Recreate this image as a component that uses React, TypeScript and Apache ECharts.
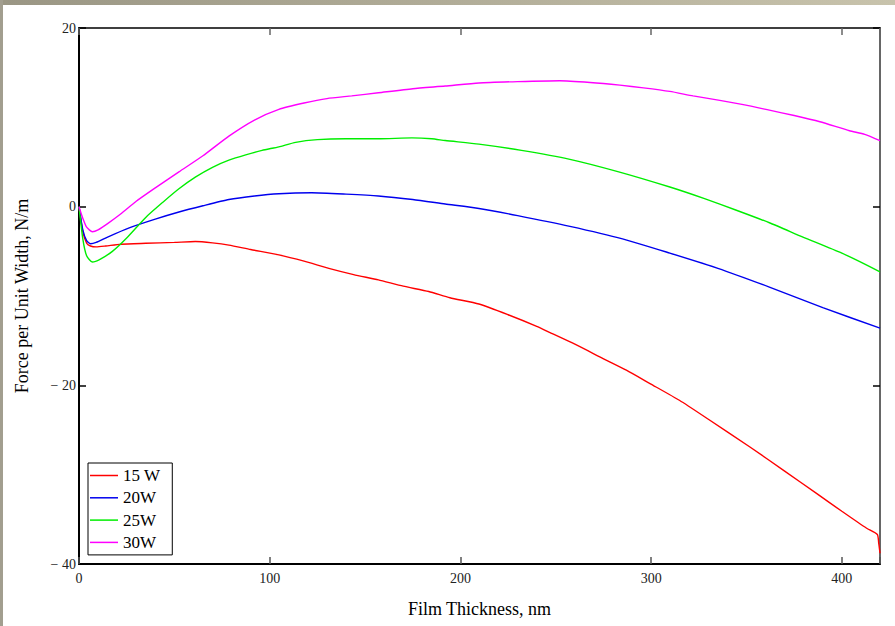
import React, { useEffect, useRef } from "react";
import * as echarts from "echarts";

const seriesNames = ["15 W", "20W", "25W", "30W"];
const seriesColors = ["#ff0000", "#0000ee", "#00ee00", "#ff00ff"];

const red15: number[][] = [
  [0, 0], [2, -2.8], [4, -4.1], [6, -4.4], [9, -4.5], [14, -4.4], [22, -4.2], [35, -4.1],
  [50, -4.0], [61, -3.9], [70, -4.05], [78.6, -4.3], [90, -4.8], [104.8, -5.4], [118, -6.1],
  [131, -6.9], [144, -7.6], [157, -8.2], [170, -8.9], [183.4, -9.5], [194.5, -10.2], [209.7, -10.9],
  [225, -12.1], [240, -13.4], [247, -14.1], [260, -15.4], [274.8, -17.0], [287, -18.3],
  [299.4, -19.8], [315, -21.7], [330, -23.8], [351.8, -26.9], [370, -29.6], [386.7, -32.1],
  [400, -34.1], [413, -36.0], [418.6, -36.7], [419.3, -37.6], [420, -38.8],
];

const blue20: number[][] = [
  [0, 0], [2, -2.6], [4, -3.8], [6, -4.15], [9, -4.0], [15, -3.4], [26, -2.4], [40, -1.4],
  [52.4, -0.6], [65, 0.1], [78.6, 0.8], [92, 1.2], [104.8, 1.45], [122, 1.55], [140, 1.4],
  [157, 1.2], [175, 0.8], [192, 0.3], [209.7, -0.2], [230, -1.0], [257.4, -2.2], [285, -3.6],
  [309.8, -5.2], [335, -6.9], [362, -9.0], [390, -11.3], [420, -13.6],
];

const green25: number[][] = [
  [0, 0], [2, -3.6], [4, -5.5], [7, -6.2], [11, -5.9], [17.5, -5.0], [25, -3.5], [35, -1.2],
  [44, 0.5], [52.4, 2.0], [61, 3.3], [70, 4.4], [78.6, 5.2], [87.4, 5.8], [96, 6.3],
  [104.8, 6.7], [113.6, 7.2], [125, 7.5], [139.8, 7.6], [157, 7.6], [174.6, 7.7], [185, 7.6],
  [192, 7.4], [209.7, 7.0], [232, 6.3], [257.4, 5.3], [283, 3.9], [309.8, 2.2], [328, 0.9],
  [344.7, -0.4], [362, -1.8], [379.6, -3.4], [400, -5.2], [420, -7.3],
];

const magenta30: number[][] = [
  [0, 0], [2, -1.3], [4, -2.3], [7, -2.8], [10, -2.6], [15, -1.9], [22, -0.8], [30, 0.6],
  [40, 2.1], [52.4, 3.9], [65, 5.7], [78.6, 7.9], [92, 9.7], [104.8, 10.9], [118, 11.6],
  [130, 12.1], [143, 12.4], [157, 12.75], [175, 13.2], [192, 13.5], [209.7, 13.85], [230, 14.0],
  [252, 14.1], [268, 13.9], [283.6, 13.6], [296, 13.3], [309.8, 12.9], [322, 12.4], [336, 11.9],
  [349, 11.4], [362, 10.8], [375, 10.2], [388.5, 9.5], [404, 8.5], [412, 8.1], [420, 7.4],
];

const allData = [red15, blue20, green25, magenta30];

const xTicks = [0, 100, 200, 300, 400];
const yTicks = [-40, -20, 0, 20];

const SERIF = "'Liberation Serif', 'DejaVu Serif', serif";

export default function App() {
  const ref = useRef<HTMLDivElement>(null);

  useEffect(() => {
    if (!ref.current) return;
    const chart = echarts.init(ref.current, undefined, { renderer: "svg" });
    const fmtY = (v: number) =>
      yTicks.indexOf(v) < 0 ? "" : v < 0 ? "\u2212 " + Math.abs(v) : String(v);
    const fmtX = (v: number) => (xTicks.indexOf(v) >= 0 ? String(v) : "");
    chart.setOption({
      animation: false,
      backgroundColor: "#ffffff",
      graphic: [
        {
          type: "rect",
          left: 0,
          top: 0,
          shape: { x: 0, y: 0, width: 895, height: 5 },
          style: {
            fill: new echarts.graphic.LinearGradient(0, 0, 1, 0, [
              { offset: 0, color: "#9a9684" },
              { offset: 1, color: "#c8c3ac" },
            ]),
          },
          z: 100,
        },
        {
          type: "rect",
          left: 0,
          top: 0,
          shape: { x: 0, y: 0, width: 3, height: 626 },
          style: { fill: "#a29e8f" },
          z: 100,
        },
      ],
      grid: { left: 79, right: 15, top: 28, bottom: 62, containLabel: false },
      legend: {
        show: true,
        orient: "vertical",
        left: 88,
        top: 463,
        data: seriesNames,
        backgroundColor: "#ffffff",
        borderColor: "#000000",
        borderWidth: 1,
        padding: [4, 12, 4, 2],
        itemWidth: 28,
        itemHeight: 14,
        itemGap: 5.3,
        textStyle: { fontFamily: SERIF, fontSize: 17, color: "#000" },
        icon: "path://M0,6 L28,6 L28,7.5 L0,7.5 Z",
      },
      xAxis: [
        {
          type: "value",
          min: 0,
          max: 420,
          interval: 100,
          position: "bottom",
          name: "Film Thickness, nm",
          nameLocation: "middle",
          nameGap: 36,
          nameTextStyle: { fontFamily: SERIF, fontSize: 18, color: "#000" },
          axisLine: { show: true, onZero: false, lineStyle: { color: "#000", width: 2 } },
          axisTick: { show: true, inside: true, length: 7, lineStyle: { color: "#555", width: 1.5 } },
          axisLabel: { fontFamily: SERIF, fontSize: 14, color: "#222", margin: 7, formatter: fmtX },
          splitLine: { show: false },
        },
        {
          type: "value",
          min: 0,
          max: 420,
          interval: 100,
          position: "top",
          axisLine: { show: true, onZero: false, lineStyle: { color: "#000", width: 1.5 } },
          axisTick: { show: true, inside: true, length: 7, lineStyle: { color: "#666", width: 1.5 } },
          axisLabel: { show: false },
          splitLine: { show: false },
        },
      ],
      yAxis: [
        {
          type: "value",
          min: -40,
          max: 20,
          interval: 20,
          position: "left",
          name: "Force per Unit Width, N/m",
          nameLocation: "middle",
          nameGap: 48,
          nameRotate: 90,
          nameTextStyle: { fontFamily: SERIF, fontSize: 18, color: "#000" },
          axisLine: { show: true, onZero: false, lineStyle: { color: "#000", width: 2 } },
          axisTick: { show: true, inside: true, length: 7, lineStyle: { color: "#000", width: 1.5 } },
          axisLabel: { fontFamily: SERIF, fontSize: 14, color: "#222", margin: 3, formatter: fmtY },
          splitLine: { show: false },
        },
        {
          type: "value",
          min: -40,
          max: 20,
          interval: 20,
          position: "right",
          axisLine: { show: true, onZero: false, lineStyle: { color: "#666", width: 2 } },
          axisTick: { show: true, inside: true, length: 7, lineStyle: { color: "#000", width: 1.5 } },
          axisLabel: { show: false },
          splitLine: { show: false },
        },
      ],
      series: seriesNames.map((name, i) => ({
        name,
        type: "line",
        xAxisIndex: 0,
        yAxisIndex: 0,
        data: allData[i],
        symbol: "none",
        showSymbol: false,
        smooth: 0.2,
        color: seriesColors[i],
        lineStyle: { color: seriesColors[i], width: 1.4 },
        itemStyle: { color: seriesColors[i] },
        z: 2,
      })),
    });
    return () => chart.dispose();
  }, []);

  return (
    <div
      ref={ref}
      style={{ position: "fixed", left: 0, top: 0, width: 895, height: 626, background: "#fff" }}
    />
  );
}
